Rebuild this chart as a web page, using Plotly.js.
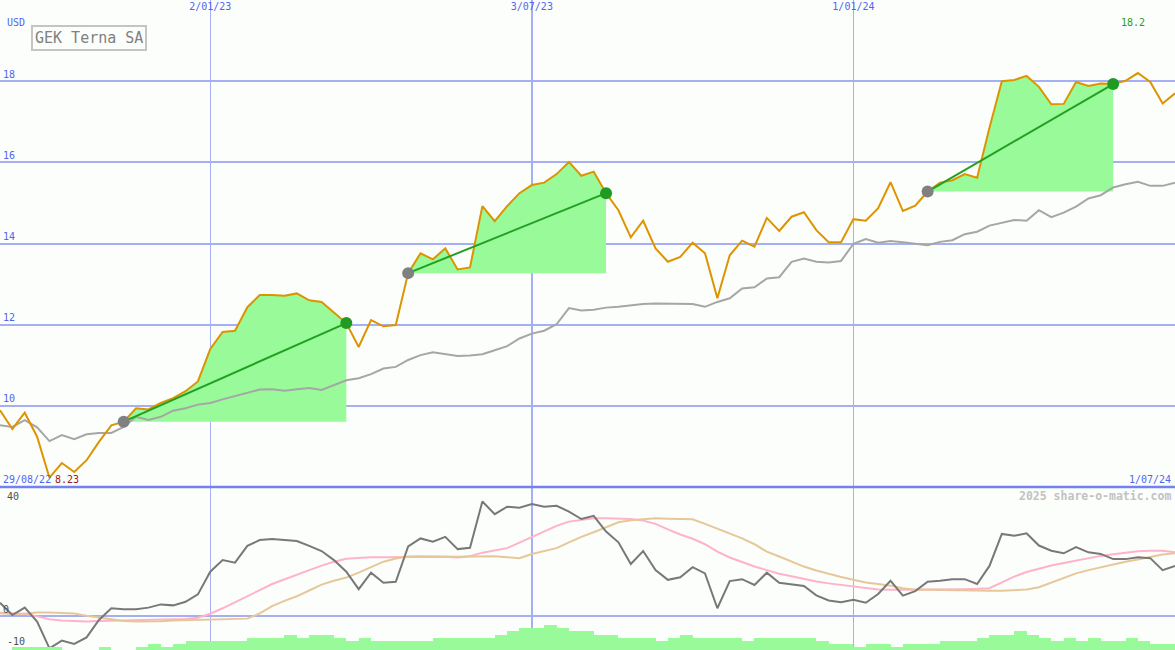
<!DOCTYPE html>
<html>
<head>
<meta charset="utf-8">
<script src="https://cdn.plot.ly/plotly-3.0.1.min.js"></script>
<style>
html,body{margin:0;padding:0;background:#fcfefc;}
#chart{width:1175px;height:650px;}
</style>
</head>
<body>
<div id="chart"></div>
<script>
// ---- data (weekly, first point = week of 5/09/22) ----
const title = 'GEK Terna SA';
const currency = 'USD';
const startLabel = '29/08/22';
const endLabel = '1/07/24';
const tickIdx = [17, 43, 69];
const tickLabels = ['2/01/23', '3/07/23', '1/01/24'];
const priceTicks = [10, 12, 14, 16, 18];

const price = [9.89, 9.43, 9.83, 9.24, 8.23, 8.59, 8.37, 8.66, 9.11, 9.52,
  9.61, 9.94, 9.91, 10.07, 10.19, 10.36, 10.6, 11.4, 11.82, 11.85,
  12.43, 12.73, 12.73, 12.71, 12.77, 12.6, 12.56, 12.31, 12.04, 11.45,
  12.11, 11.96, 11.99, 13.27, 13.76, 13.61, 13.88, 13.36, 13.41, 14.92,
  14.55, 14.92, 15.24, 15.44, 15.5, 15.71, 16.01, 15.67, 15.77, 15.24,
  14.82, 14.15, 14.56, 13.88, 13.55, 13.67, 14.02, 13.76, 12.65, 13.71,
  14.07, 13.92, 14.63, 14.31, 14.66, 14.77, 14.33, 14.03, 14.03, 14.6,
  14.56, 14.87, 15.51, 14.8, 14.93, 15.28, 15.5, 15.56, 15.71, 15.62,
  16.85, 18.0, 18.03, 18.13, 17.86, 17.43, 17.44, 17.98, 17.88, 17.94,
  17.93, 18.01, 18.2, 17.98, 17.45, 17.7];

const movingAvg = [9.52, 9.48, 9.65, 9.47, 9.13, 9.28, 9.18, 9.30, 9.33, 9.33,
  9.48, 9.73, 9.65, 9.73, 9.88, 9.94, 10.03, 10.07, 10.16, 10.24,
  10.32, 10.40, 10.41, 10.37, 10.41, 10.44, 10.39, 10.51, 10.63, 10.68,
  10.78, 10.92, 10.96, 11.13, 11.25, 11.32, 11.27, 11.23, 11.24, 11.27,
  11.37, 11.47, 11.66, 11.78, 11.85, 12.01, 12.41, 12.35, 12.37, 12.42,
  12.44, 12.48, 12.51, 12.52, 12.52, 12.52, 12.51, 12.44, 12.56, 12.65,
  12.89, 12.92, 13.14, 13.17, 13.55, 13.63, 13.55, 13.53, 13.57, 13.99,
  14.11, 14.02, 14.06, 14.03, 14.00, 13.96, 14.04, 14.08, 14.23, 14.29,
  14.44, 14.51, 14.58, 14.56, 14.82, 14.65, 14.76, 14.91, 15.11, 15.19,
  15.38, 15.46, 15.52, 15.42, 15.42, 15.50];

// trend segments (start index, end index)
const segStart = [10, 33, 75];
const segEnd = [28, 49, 90];

// lower panel: oscillator and its two averages
const oscillator = [4.2, 0.4, 2.7, -1.6, -9.9, -7.5, -8.5, -6.5, -1.1, 2.5,
  2.2, 2.2, 2.7, 3.7, 3.4, 4.5, 6.8, 13.8, 17.4, 16.6,
  21.8, 23.6, 23.9, 23.6, 23.3, 21.8, 20.2, 17.4, 13.8, 8.4,
  13.5, 10.4, 10.7, 21.6, 24.1, 23.1, 24.6, 20.8, 21.2, 35.5,
  31.6, 33.9, 33.6, 34.7, 33.9, 34.2, 32.4, 30.1, 31.1, 26.2,
  22.9, 16.2, 20.2, 14.3, 11.3, 12.1, 15.2, 13.3, 2.5, 10.9,
  11.5, 9.7, 13.5, 10.4, 9.9, 9.4, 6.5, 4.9, 4.4, 5.1,
  4.2, 6.9, 11.0, 6.4, 7.8, 10.7, 11.0, 11.5, 11.5, 10.0,
  15.6, 25.5, 24.9, 25.7, 21.9, 20.3, 19.5, 21.4, 19.8, 19.3,
  17.7, 17.7, 18.3, 18.0, 14.3, 15.6];

const oscFast = [1.1, 0.9, 0.8, 0.0, -0.9, -1.3, -1.5, -1.6, -1.4, -1.3,
  -1.2, -1.1, -1.1, -1.0, -1.0, -0.8, -0.4, 0.8, 2.5, 4.3,
  6.2, 8.1, 10.0, 11.5, 12.9, 14.3, 15.7, 16.9, 17.8, 18.1,
  18.3, 18.3, 18.3, 18.4, 18.5, 18.5, 18.4, 18.2, 18.6, 19.7,
  20.5, 21.1, 22.8, 24.5, 26.3, 28.0, 29.3, 29.8, 30.3, 30.3,
  30.3, 30.1, 29.6, 28.6, 26.9, 25.3, 24.0, 22.3, 20.0, 18.2,
  16.8, 15.4, 14.3, 13.2, 12.4, 11.5, 10.8, 10.2, 9.7, 9.1,
  8.6, 8.3, 8.2, 8.2, 8.2, 8.2, 8.2, 8.3, 8.4, 8.5,
  8.7, 10.5, 12.3, 13.7, 14.8, 15.7, 16.5, 17.3, 18.1, 18.7,
  19.2, 19.7, 20.1, 20.3, 20.3, 19.8];

const oscSlow = [1.0, 0.7, 0.8, 1.2, 1.2, 1.1, 0.9, 0.2, -0.4, -1.0,
  -1.4, -1.6, -1.6, -1.5, -1.3, -1.2, -1.1, -1.0, -1.0, -0.9,
  -0.7, 0.9, 3.2, 4.8, 6.2, 8.0, 9.8, 11.0, 12.0, 13.5,
  15.2, 16.9, 17.9, 18.5, 18.6, 18.5, 18.4, 18.4, 18.5, 18.6,
  18.6, 18.3, 18.0, 19.3, 20.2, 21.1, 22.9, 24.6, 26.0, 27.5,
  29.1, 29.7, 30.1, 30.3, 30.2, 30.1, 30.0, 28.6, 27.1, 25.6,
  24.1, 22.3, 20.0, 18.5, 16.9, 15.4, 14.2, 13.1, 12.2, 11.3,
  10.5, 10.0, 9.5, 8.7, 8.2, 8.2, 8.1, 8.0, 8.0, 7.9,
  7.9, 7.9, 8.0, 8.3, 9.0, 10.5, 11.8, 13.3, 14.3, 15.2,
  16.1, 16.9, 17.6, 18.4, 19.1, 19.5];

// weekly volume (relative), one bar per week interval
const volume = [0,3,3,3,3,0,0,0,3,0,
  0,3,6,3,6,9,9,9,9,9,
  12,12,12,15,12,15,15,12,9,12,
  9,9,9,9,9,12,12,12,12,12,
  15,19,22,22,25,22,19,19,15,15,
  12,12,12,9,12,15,12,12,12,12,
  9,12,12,12,12,12,9,6,6,3,
  6,6,3,6,6,6,9,9,9,12,
  15,15,19,15,12,9,12,9,12,9,
  9,12,9,6,6];

// ---- build ----
const weeks = price.map((_, i) => i);
const volX = volume.map((_, i) => i + 0.5);
const BG = '#fcfefc';
const BLUE = '#5464f0';
const GRID = '#a6aef4';
const MONO = 'DejaVu Sans Mono, monospace';
const lowerFrac = 163 / 650;

const traces = [];
// green areas
segStart.forEach((s, k) => {
  const e = segEnd[k];
  const xs = weeks.slice(s, e + 1).concat([e, s]);
  const ys = price.slice(s, e + 1).concat([price[s], price[s]]);
  traces.push({x: xs, y: ys, type: 'scatter', mode: 'lines', fill: 'toself',
    fillcolor: '#98fa98', line: {width: 0}, hoverinfo: 'skip', xaxis: 'x', yaxis: 'y'});
});
traces.push({x: weeks, y: movingAvg, type: 'scatter', mode: 'lines',
  line: {color: '#a6a6a6', width: 2}, xaxis: 'x', yaxis: 'y'});
traces.push({x: weeks, y: price, type: 'scatter', mode: 'lines',
  line: {color: '#de9400', width: 2}, xaxis: 'x', yaxis: 'y'});
segStart.forEach((s, k) => {
  const e = segEnd[k];
  traces.push({x: [s, e], y: [price[s], price[e]], type: 'scatter', mode: 'lines',
    line: {color: '#22a022', width: 2}, xaxis: 'x', yaxis: 'y'});
  traces.push({x: [s], y: [price[s]], type: 'scatter', mode: 'markers',
    marker: {color: '#808080', size: 12}, xaxis: 'x', yaxis: 'y'});
  traces.push({x: [e], y: [price[e]], type: 'scatter', mode: 'markers',
    marker: {color: '#209a20', size: 12}, xaxis: 'x', yaxis: 'y'});
});
// lower panel
traces.push({x: volX, y: volume, type: 'bar', width: 1,
  marker: {color: '#98fa98', line: {width: 0}}, xaxis: 'x', yaxis: 'y3'});
traces.push({x: weeks, y: oscFast, type: 'scatter', mode: 'lines',
  line: {color: '#ffb2c8', width: 2}, xaxis: 'x', yaxis: 'y2'});
traces.push({x: weeks, y: oscSlow, type: 'scatter', mode: 'lines',
  line: {color: '#e6c898', width: 2}, xaxis: 'x', yaxis: 'y2'});
traces.push({x: weeks, y: oscillator, type: 'scatter', mode: 'lines',
  line: {color: '#787878', width: 2}, xaxis: 'x', yaxis: 'y2'});

const hiIdx = price.indexOf(Math.max(...price));
const loIdx = price.indexOf(Math.min(...price));
const py = px => 1 - px / 650;

const layout = {
  width: 1175, height: 650,
  margin: {l: 0, r: 0, t: 0, b: 0},
  paper_bgcolor: BG, plot_bgcolor: BG,
  showlegend: false, hovermode: false, bargap: 0,
  xaxis: {range: [0, weeks.length - 1], tickvals: tickIdx, ticktext: tickLabels,
    side: 'top', anchor: 'y', ticklabelposition: 'inside', ticks: '',
    showgrid: true, gridcolor: GRID, gridwidth: 1.5, zeroline: false, showline: false,
    tickfont: {family: MONO, size: 10, color: BLUE}},
  yaxis: {domain: [lowerFrac, 1], range: [8, 20], tickvals: priceTicks,
    ticklabelposition: 'inside top', ticks: '', showgrid: true, gridcolor: GRID,
    gridwidth: 2, zeroline: false, showline: false,
    tickfont: {family: MONO, size: 10, color: BLUE}},
  yaxis2: {domain: [0, lowerFrac], range: [-10.4, 40], tickvals: [0], ticktext: ['0'],
    ticklabelposition: 'inside top', ticks: '', showgrid: true, gridcolor: GRID,
    gridwidth: 2, zeroline: false, showline: false,
    tickfont: {family: MONO, size: 10, color: '#505050'}},
  yaxis3: {overlaying: 'y2', range: [0, 163], visible: false},
  shapes: [{type: 'line', xref: 'paper', yref: 'paper', x0: 0, x1: 1,
    y0: lowerFrac, y1: lowerFrac, line: {color: '#7282f0', width: 2.5}}],
  annotations: [
    {text: currency, xref: 'paper', yref: 'paper', x: 0.004, y: py(22), xanchor: 'left', yanchor: 'middle',
      showarrow: false, font: {family: MONO, size: 10, color: BLUE}},
    {text: title, xref: 'paper', yref: 'paper', x: 31 / 1175, y: py(25), xanchor: 'left', yanchor: 'top',
      showarrow: false, bordercolor: '#c4c4c4', borderwidth: 2, borderpad: 2, bgcolor: BG,
      font: {family: MONO, size: 15, color: '#808080'}},
    {text: String(price[hiIdx]), xref: 'x', yref: 'paper', x: hiIdx, xshift: -5, y: py(22),
      xanchor: 'center', yanchor: 'middle', showarrow: false,
      font: {family: MONO, size: 10, color: '#22a022'}},
    {text: price[loIdx].toFixed(2), xref: 'x', yref: 'paper', x: loIdx, xshift: 4, y: py(479),
      xanchor: 'left', yanchor: 'middle', showarrow: false,
      font: {family: MONO, size: 10, color: '#a01818'}},
    {text: startLabel, xref: 'paper', yref: 'paper', x: 0.001, y: py(479), xanchor: 'left', yanchor: 'middle',
      showarrow: false, font: {family: MONO, size: 10, color: BLUE}},
    {text: endLabel, xref: 'paper', yref: 'paper', x: 0.998, y: py(479), xanchor: 'right', yanchor: 'middle',
      showarrow: false, font: {family: MONO, size: 10, color: BLUE}},
    {text: '2025 share-o-matic.com', xref: 'paper', yref: 'paper', x: 0.998, y: py(496),
      xanchor: 'right', yanchor: 'middle', showarrow: false,
      font: {family: MONO, size: 11.5, color: '#c2c2c2', weight: 'bold'}},
    {text: '40', xref: 'paper', yref: 'paper', x: 0.004, y: py(496), xanchor: 'left', yanchor: 'middle',
      showarrow: false, font: {family: MONO, size: 10, color: '#505050'}},
    {text: '-10', xref: 'paper', yref: 'paper', x: 0.004, y: py(641), xanchor: 'left', yanchor: 'middle',
      showarrow: false, font: {family: MONO, size: 10, color: '#505050'}}
  ]
};

Plotly.newPlot('chart', traces, layout, {staticPlot: true, displayModeBar: false});
</script>
</body>
</html>
